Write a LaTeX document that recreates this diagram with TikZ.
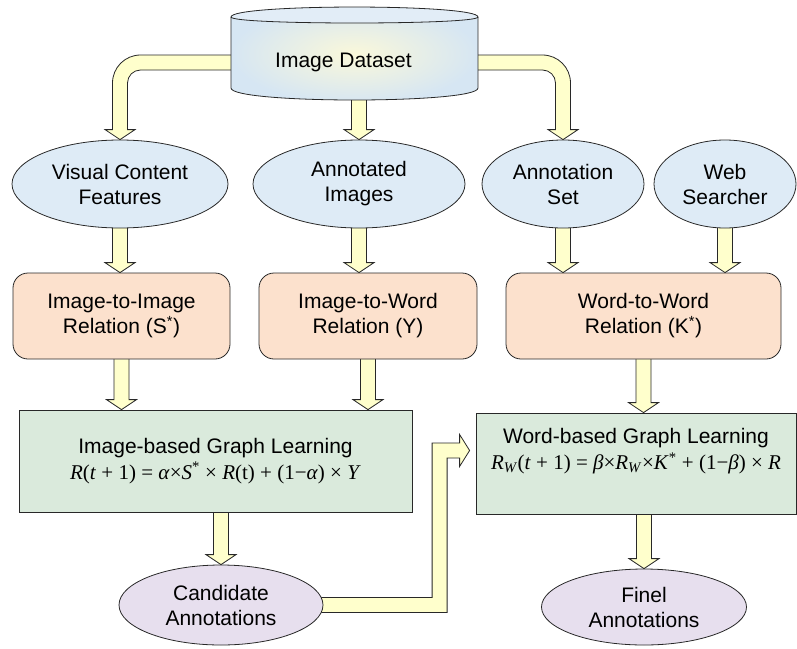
\documentclass[tikz,border=0pt]{standalone}
\usepackage{fontspec}
\setmainfont{Liberation Sans}
\newfontfamily\formfont{Liberation Serif}
\usetikzlibrary{shapes.geometric,calc,backgrounds}

\definecolor{lineclr}{RGB}{40,40,40}
\definecolor{srcfill}{RGB}{222,235,246}
\definecolor{relfill}{RGB}{252,225,205}
\definecolor{learnfill}{RGB}{218,234,220}
\definecolor{outfill}{RGB}{231,223,238}
\definecolor{flowfill}{RGB}{255,255,204}
\definecolor{dbedge}{RGB}{214,230,243}
\definecolor{dbmid}{RGB}{250,248,218}
\definecolor{dbtop}{RGB}{226,237,247}

\begin{document}
\begin{tikzpicture}[x=1pt, y=-1pt,
  every node/.style={font=\fontsize{21}{25}\selectfont},
  dbnode/.style={rectangle, minimum width=247pt, minimum height=93pt, inner sep=0pt},
  sourcenode/.style={ellipse, draw=lineclr, line width=0.8pt, fill=srcfill, minimum height=88pt, inner sep=0pt, align=center},
  relnode/.style={rectangle, rounded corners=15pt, draw=lineclr, line width=0.8pt, fill=relfill, minimum height=86pt, inner sep=0pt, align=center},
  learnnode/.style={rectangle, draw=lineclr, line width=0.8pt, fill=learnfill, inner sep=0pt, align=center},
  outnode/.style={ellipse, draw=lineclr, line width=0.8pt, fill=outfill, inner sep=0pt, align=center},
  fatarrow/.style={draw=lineclr, line width=0.8pt, fill=flowfill},
  fatdown/.style={fatarrow, to path={let \p1=(\tikztostart), \p2=(\tikztotarget) in
    (\x1-7.5pt,\y1+5pt) -- (\x1-7.5pt,\y2+10pt) -- (\x1-15pt,\y2+10pt) -- (\x1,\y2)
    -- (\x1+15pt,\y2+10pt) -- (\x1+7.5pt,\y2+10pt) -- (\x1+7.5pt,\y1+5pt) -- cycle}},
]
\useasboundingbox (0,0) rectangle (797,648);

\node[dbnode, label={[name=dbtext, xshift=-11pt, yshift=-9pt]center:Image Dataset}] (data) at (354.5,53.5) {};

\node[sourcenode, minimum width=216pt] (vis) at (120,184) {Visual Content\\Features};
\node[sourcenode, minimum width=212pt] (ann) at (359,184) {Annotated\\Images};
\node[sourcenode, minimum width=162pt] (aset) at (563,184) {Annotation\\Set};
\node[sourcenode, minimum width=142pt] (web) at (725,184) {Web\\Searcher};

\node[relnode, minimum width=217pt] (rel1) at (121.5,316) {Image-to-Image\\Relation (S\textsuperscript{*})};
\node[relnode, minimum width=218pt] (rel2) at (368,316) {Image-to-Word\\Relation (Y)};
\node[relnode, minimum width=275pt] (rel3) at (643.5,316) {Word-to-Word\\Relation (K\textsuperscript{*})};

\node[learnnode, minimum width=393pt, minimum height=102pt] (imgl) at (215.5,461) {Image-based Graph Learning\\[1pt]
  {\formfont\textit{R}(\textit{t} + 1) = \textit{α}×\textit{S}\textsuperscript{*} × \textit{R}(t) + (1−\textit{α}) × \textit{Y}}};
\node[learnnode, minimum width=320pt, minimum height=101pt] (wrdl) at (636,463.5) {Word-based Graph Learning\\[1pt]
  {\formfont\textit{R}\textsubscript{\textit{W}}(\textit{t} + 1) = \textit{β}×\textit{R}\textsubscript{\textit{W}}×\textit{K}\textsuperscript{*} + (1−\textit{β}) × \textit{R}}\\[4pt]};

\node[outnode, minimum width=204pt, minimum height=80pt] (cand) at (221,605) {Candidate\\Annotations};
\node[outnode, minimum width=205pt, minimum height=76pt] (finel) at (644,607) {Finel\\Annotations};

\begin{scope}[on background layer]
\draw[fatarrow] let \p1=([yshift=-9pt]data.west), \p2=(vis.north) in
  (\x1+6pt,\y1+7.5pt) -- (\x2+20.5pt,\y1+7.5pt) arc[start angle=90, end angle=180, radius=28pt]
  -- (\x2-7.5pt,\y2+10pt) -- (\x2-15pt,\y2+10pt) -- (\x2,\y2) -- (\x2+15pt,\y2+10pt) -- (\x2+7.5pt,\y2+10pt)
  -- (\x2+7.5pt,\y1-20.5pt) arc[start angle=180, end angle=90, radius=13pt] -- (\x1+6pt,\y1-7.5pt) -- cycle;
\draw[fatarrow] let \p1=([yshift=-9pt]data.east), \p2=(aset.north) in
  (\x1-6pt,\y1+7.5pt) -- (\x2-20.5pt,\y1+7.5pt) arc[start angle=90, end angle=0, radius=28pt]
  -- (\x2+7.5pt,\y2+10pt) -- (\x2+15pt,\y2+10pt) -- (\x2,\y2) -- (\x2-15pt,\y2+10pt) -- (\x2-7.5pt,\y2+10pt)
  -- (\x2-7.5pt,\y1-20.5pt) arc[start angle=0, end angle=90, radius=13pt] -- (\x1-6pt,\y1-7.5pt) -- cycle;
\draw[fatdown] (data.south -| ann.north) to (ann.north);

\draw[fatdown] (vis.south) to (rel1.north);
\draw[fatdown] (ann.south) to (rel2.north);
\draw[fatdown] (aset.south) to (rel3.north);
\draw[fatdown] (web.south) to (rel3.north);

\draw[fatdown] (rel1.south) to (imgl.north);
\draw[fatdown] (rel2.south) to (imgl.north);
\draw[fatdown] (rel3.south) to (wrdl.north);

\draw[fatdown] (imgl.south -| cand.north) to (cand.north);
\draw[fatdown] (wrdl.south -| finel.north) to (finel.north);

\draw[fatarrow] let \p1=(cand.east), \p2=([yshift=13pt]wrdl.west) in
  (\x1-6pt,\y1+7.5pt) -- (\x2-43.5pt,\y1+7.5pt) -- (\x2-43.5pt,\y2+7.5pt) -- (\x2-16pt,\y2+7.5pt)
  -- (\x2-16pt,\y2+16pt) -- (\x2-6pt,\y2) -- (\x2-16pt,\y2-16pt) -- (\x2-16pt,\y2-7.5pt)
  -- (\x2-28.5pt,\y2-7.5pt) -- (\x2-28.5pt,\y1-7.5pt) -- (\x1-6pt,\y1-7.5pt) -- cycle;

\path[shade, inner color=dbmid, outer color=dbedge] (231,17) .. controls (231,3.7) and (478,3.7) .. (478,17)
  -- (478,88) .. controls (478,104) and (231,104) .. (231,88) -- cycle;
\draw[fill=dbtop, draw=lineclr, line width=0.8pt] (231,17) .. controls (231,3.7) and (478,3.7) .. (478,17)
  .. controls (478,25) and (231,25) .. (231,17) -- cycle;
\draw[draw=lineclr, line width=0.8pt] (231,17) -- (231,88) .. controls (231,104) and (478,104) .. (478,88) -- (478,17);
\end{scope}

\end{tikzpicture}
\end{document}
